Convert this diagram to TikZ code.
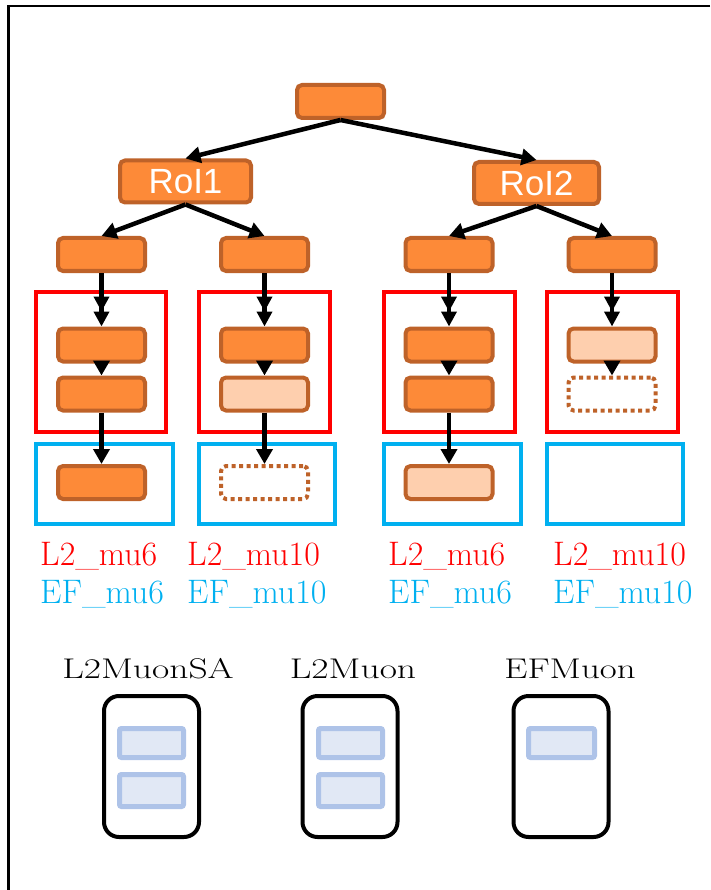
\documentclass[tikz,border=0pt]{standalone}
\usepackage{fontspec}
\newfontfamily\roifont{Liberation Sans}
\usetikzlibrary{arrows.meta}

\definecolor{algofill}{HTML}{FD8A38}
\definecolor{algoedge}{HTML}{BE6229}
\definecolor{algolightfill}{HTML}{FECFAE}
\definecolor{l2red}{HTML}{FF0000}
\definecolor{efblue}{HTML}{00B0F0}
\definecolor{slotedge}{HTML}{AEC3E8}
\definecolor{slotfill}{HTML}{E1E8F5}

\begin{document}
\begin{tikzpicture}[x=1pt,y=-1pt,
  algo/.style={draw=algoedge, line width=4pt, rounded corners=5pt,
    minimum width=87pt, minimum height=33pt, inner sep=0pt, fill=algofill},
  algolight/.style={algo, fill=algolightfill},
  algomiss/.style={algo, fill=white, dash pattern=on 4pt off 3.5pt},
  roi/.style={algo, minimum height=42pt, text=white,
    font=\roifont\fontsize{35}{40}\selectfont},
  flow/.style={line width=4.5pt, -{Triangle[width=16pt,length=15pt]}},
  dflow/.style={line width=4.5pt,
    -{Triangle[width=15pt,length=15pt,sep=0pt] Triangle[width=15pt,length=15pt,sep=0pt]}},
  l2box/.style={draw=l2red, line width=4.5pt},
  efbox/.style={draw=efblue, line width=4.5pt},
  chainlabel/.style={anchor=base west, inner sep=0pt, font=\fontsize{34}{38}\selectfont},
  storebox/.style={draw=black, line width=4pt, rounded corners=15pt,
    minimum width=95pt, minimum height=141pt, inner sep=0pt},
  slot/.style={draw=slotedge, fill=slotfill, line width=5pt, rounded corners=2pt,
    minimum width=64pt, inner sep=0pt},
  storelabel/.style={anchor=base, inner sep=0pt, font=\fontsize{33.5}{38}\selectfont}
]
\useasboundingbox (0,0) rectangle (710,890);

% outer frame
\draw[line width=2.5pt] (710,6) -- (8.5,6) -- (8.5,890);

% trigger element and RoIs
\node[algo] (top) at (340.5,101.5) {};
\node[roi, minimum width=131pt] (roiA) at (185.5,181.5) {RoI1};
\node[roi, minimum width=125pt] (roiB) at (536.5,183) {RoI2};

% L2 and EF step containers
\draw[l2box] (36,292) rectangle (166,432);
\draw[l2box] (199,292) rectangle (330,432);
\draw[l2box] (384,292) rectangle (515,432);
\draw[l2box] (547,292) rectangle (678,432);
\draw[efbox] (36,444) rectangle (173,524);
\draw[efbox] (199,444) rectangle (335,524);
\draw[efbox] (384,444) rectangle (521,524);
\draw[efbox] (547,444) rectangle (683,524);

% chain heads
\node[algo] (a1) at (101.5,254.5) {};
\node[algo] (b1) at (264.5,254.5) {};
\node[algo] (c1) at (449,254.5) {};
\node[algo] (d1) at (612,254.5) {};

% L2 steps
\node[algo] (a2) at (101.5,345) {};
\node[algo] (b2) at (264.5,345) {};
\node[algo] (c2) at (449,345) {};
\node[algolight] (d2) at (612,345) {};
\node[algo] (a3) at (101.5,394) {};
\node[algolight] (b3) at (264.5,394) {};
\node[algo] (c3) at (449,394) {};
\node[algomiss] (d3) at (612,394) {};

% EF steps
\node[algo] (a4) at (101.5,482.5) {};
\node[algomiss] (b4) at (264.5,482.5) {};
\node[algolight] (c4) at (449,482.5) {};

% connectors
\draw[flow] (top.south) -- (roiA.north);
\draw[flow] (top.south) -- (roiB.north);
\draw[flow] (roiA.south) -- (a1.north);
\draw[flow] (roiA.south) -- (b1.north);
\draw[flow] (roiB.south) -- (c1.north);
\draw[flow] (roiB.south) -- (d1.north);
\foreach \c in {a,b,c,d} {
  \draw[dflow] (\c1.south) -- (\c2.north);
  \draw[flow] (\c2.south) -- (\c3.north);
}
\foreach \c in {a,b,c} {
  \draw[flow] (\c3.south) -- (\c4.north);
}

% chain names
\node[chainlabel, text=l2red] (la) at (40,565) {L2\_mu6};
\node[chainlabel, text=efblue] (ea) at (40,603) {EF\_mu6};
\node[chainlabel, text=l2red] (lb) at (187,565) {L2\_mu10};
\node[chainlabel, text=efblue] (eb) at (187,603) {EF\_mu10};
\node[chainlabel, text=l2red] (lc) at (388,565) {L2\_mu6};
\node[chainlabel, text=efblue] (ec) at (388,603) {EF\_mu6};
\node[chainlabel, text=l2red] (ld) at (553,565) {L2\_mu10};
\node[chainlabel, text=efblue] (ed) at (553,603) {EF\_mu10};

% feature containers
\node[storelabel] (tA) at (148,678) {\scalebox{1.12}[0.85]{L2MuonSA}};
\node[storelabel] (tB) at (353,678) {\scalebox{1.12}[0.85]{L2Muon}};
\node[storelabel] (tC) at (570,678) {\scalebox{1.1}[0.85]{EFMuon}};

\node[storebox] (sA) at (151.5,766.5) {};
\node[storebox] (sB) at (350,766.5) {};
\node[storebox] (sC) at (561,766.5) {};

\node[slot, minimum height=29pt] (sA1) at (151.5,743) {};
\node[slot, minimum height=32pt] (sA2) at (151.5,790.5) {};
\node[slot, minimum height=29pt] (sB1) at (350.5,743) {};
\node[slot, minimum height=32pt] (sB2) at (350.5,790.5) {};
\node[slot, minimum height=29pt, minimum width=66pt] (sC1) at (561.5,743) {};
\end{tikzpicture}
\end{document}
